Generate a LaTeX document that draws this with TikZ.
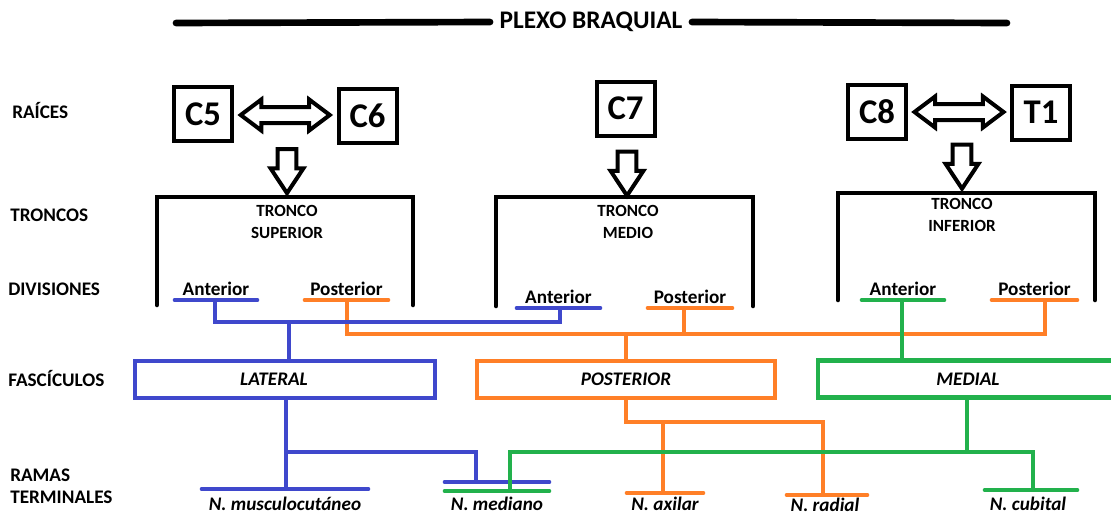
\documentclass[tikz,border=0pt]{standalone}
\usepackage{fontspec}
\setmainfont{Carlito}
\usetikzlibrary{shapes.arrows,calc}
\definecolor{plexA}{HTML}{3F48CC}
\definecolor{plexB}{HTML}{FF7F27}
\definecolor{plexC}{HTML}{22B14C}

\begin{document}
\begin{tikzpicture}[x=0.75pt,y=-0.75pt,
 wire/.style={line width=3.5pt},
 bar/.style={line width=3.5pt,line cap=round},
 caps/.style={text height=9.3pt,text depth=0pt},
 sidebase/.style={anchor=west,inner sep=0pt,font=\fontsize{14.4}{16.5}\selectfont\bfseries},
 side/.style={sidebase,caps},
 lbl/.style={inner sep=0pt,caps,font=\fontsize{14.4}{16.5}\selectfont\bfseries},
 term/.style={lbl,font=\fontsize{14.4}{16.5}\selectfont\bfseries\itshape},
 rootbox/.style={draw,line width=3pt,minimum width=43.5pt,minimum height=40.5pt,inner sep=0pt,
  font=\fontsize{26}{30}\selectfont\bfseries},
 fasc/.style={draw,line width=3.5pt,minimum height=27.75pt,inner sep=0pt,
  font=\fontsize{14.4}{16.5}\selectfont\bfseries\itshape},
 trunkline/.style={line width=3.4pt,line cap=round},
 trunktxt/.style={align=center,inner sep=0pt,font=\fontsize{12.8}{16.5}\selectfont\bfseries},
 dblarrow/.style={double arrow,draw,line width=3pt,minimum height=66.75pt,minimum width=0pt,
  inner xsep=0pt,inner ysep=4.5pt,double arrow head extend=5.6pt,double arrow tip angle=74},
 downarrow/.style={single arrow,draw,line width=3pt,rotate=-90,minimum height=33pt,minimum width=0pt,
  inner xsep=0pt,inner ysep=5.6pt,single arrow head extend=5.25pt,single arrow tip angle=67}]
\path[use as bounding box,fill=white] (0,0) rectangle (1111,514);
\node[font=\fontsize{19}{22}\selectfont\bfseries,inner xsep=7pt,inner ysep=0pt] (title) at (591,22) {PLEXO BRAQUIAL};
\draw[line width=5pt,line cap=round] (176,23) -- (title.west);
\draw[line width=5pt,line cap=round] (title.east) -- (1007,23);
\node[side] (rai) at (12,112) {RAÍCES};
\node[side] (tro) at (10,215) {TRONCOS};
\node[side] (div) at (8,289) {DIVISIONES};
\node[side] (fas) at (8,380) {FASCÍCULOS};
\node[sidebase,align=left] (ram) at (10,486) {RAMAS\\TERMINALES};
\node[rootbox] (c5) at (203,114) {C5};
\node[rootbox] (c6) at (367.5,116) {C6};
\node[rootbox] (c7) at (625.5,108.5) {C7};
\node[rootbox] (c8) at (877,111.5) {C8};
\node[rootbox] (t1) at (1041,112.5) {T1};
\node[dblarrow] (a56) at ($(c5.east)!.5!(c6.west)$) {};
\node[dblarrow] (a8t) at ($(c8.east)!.5!(t1.west)$) {};
\node[downarrow] (dS) at (287,164) {};
\node[downarrow] (dM) at (627,166.5) {};
\node[downarrow] (dI) at (962,159.5) {};
\foreach \name/\l/\r/\t/\b/\x/\y/\txt in {tS/157/413/197/305/287/222/SUPERIOR,
 tM/496/753/197/306/628/221.5/MEDIO,tI/838/1095/193/300/962/215/INFERIOR}{
 \draw[trunkline] (\l,\b) |- (\r,\t) -- (\r,\b);
 \node[trunktxt] (\name) at (\x,\y) {TRONCO\\\txt};
}
\foreach \name/\x/\y/\l/\r/\col/\txt in {antS/215/300/175/257/plexA/Anterior,posS/347/300/305/388/plexB/Posterior,
 antM/560/308/517/600/plexA/Anterior,posM/684/308/648/732/plexB/Posterior,
 antI/902/300/862/944/plexC/Anterior,posI/1045/300/992/1077/plexB/Posterior}{
 \coordinate (\name) at (\x,\y);
 \draw[\col,bar] (\l,\y) -- (\r,\y);
 \node[lbl] (\name-t) at ({(\l+\r)/2},\y-11) {\txt};
}
\node[fasc,draw=plexA,minimum width=225pt] (lat) at (285,379.5) {\hspace*{-16.5pt}LATERAL};
\node[fasc,draw=plexB,minimum width=223.5pt] (post) at (626,379.5) {POSTERIOR};
\node[fasc,draw=plexC,minimum width=225pt] (med) at (968,379) {MEDIAL};
\foreach \name/\x/\y/\l/\r/\col in {mus/286/489/202/368/plexA,medA/476/482/445/549/plexA,
 medC/510/491/445/549/plexC,axi/663/493/627/703/plexB,rad/823/495/787/867/plexB,cub/1033/490/985/1077/plexC}{
 \coordinate (\name) at (\x,\y);
 \draw[\col,bar] (\l,\y) -- (\r,\y);
}
\foreach \name/\x/\y/\txt in {mus/285/504/N. musculocutáneo,medA/497/504/N. mediano,
 axi/665/504/N. axilar,rad/825/505/N. radial,cub/1028/504/N. cubital}{
 \node[term] (\name-t) at (\x,\y) {\txt};
}
% posterior divisions, then anterior ones on top
\coordinate (kB) at (1045,334);
\coordinate (kP) at (823,422);
\draw[plexB,wire] (posS) |- (kB) -- (posI);
\draw[plexB,wire] (posM) -- (posM |- kB);
\draw[plexB,wire] (post.north |- kB) -- (post.north);
\draw[plexB,wire] (post.south) |- (kP) -- (rad);
\draw[plexB,wire] (axi |- kP) -- (axi);
\coordinate (kA) at (289,322);
\coordinate (kL) at (286,452);
\draw[plexA,wire] (antS) |- (kA) -| (antM);
\draw[plexA,wire] (kA) -- (kA |- lat.north);
\draw[plexA,wire] (lat.south -| mus) -- (mus);
\draw[plexA,wire] (kL) -| (medA);
\coordinate (kC) at (967,452);
\draw[plexC,wire] (antI) -- (antI |- med.north);
\draw[plexC,wire] (med.south -| kC) -- (kC);
\draw[plexC,wire] (medC) |- (kC) -| (cub);
\end{tikzpicture}
\end{document}
